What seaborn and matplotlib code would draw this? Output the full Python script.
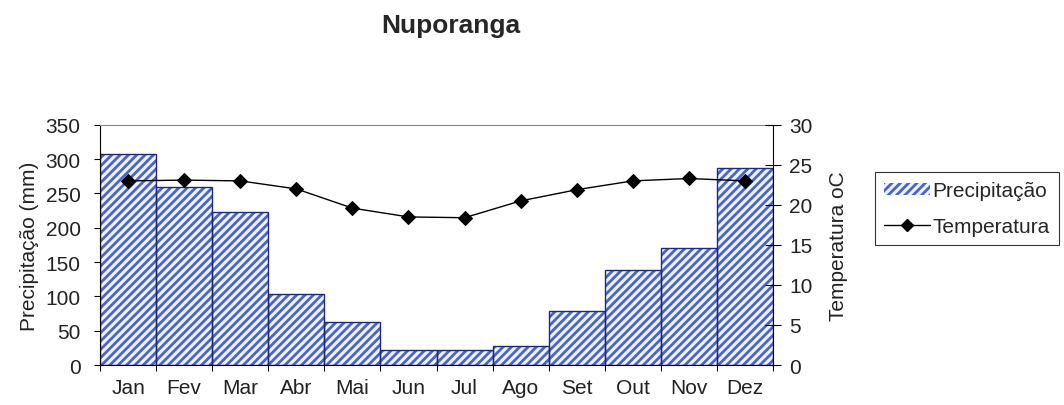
import numpy as np
import pandas as pd
import seaborn as sns
import matplotlib.pyplot as plt
from matplotlib.lines import Line2D
from matplotlib.patches import Patch, Rectangle

# --- dados ---
meses = ['Jan', 'Fev', 'Mar', 'Abr', 'Mai', 'Jun', 'Jul', 'Ago', 'Set', 'Out', 'Nov', 'Dez']
precipitacao = [307, 260, 223, 104, 63, 22, 22, 28, 79, 139, 170, 287]
temperatura = [23.0, 23.1, 23.0, 22.0, 19.6, 18.5, 18.4, 20.5, 21.9, 23.0, 23.3, 23.0]

df = pd.DataFrame({'Mes': meses, 'Precipitacao': precipitacao, 'Temperatura': temperatura})

FACE = '#eef3ff'
HATCH = '#4a64c8'
BORDA = '#1c2a78'
FS = 15

sns.set_style('white')
plt.rcParams['font.family'] = ['Liberation Sans', 'DejaVu Sans']
plt.rcParams['hatch.linewidth'] = 2.0

fig = plt.figure(figsize=(10.64, 4.06), dpi=100)
ax = fig.add_axes([0.094, 0.0985, 0.6325, 0.5915])

# barras de precipitação (hachura azul, contorno escuro por cima)
sns.barplot(data=df, x='Mes', y='Precipitacao', ax=ax, width=1.0,
            color=FACE, saturation=1, edgecolor=HATCH, linewidth=0)
for p in list(ax.patches):
    p.set_hatch('////')
    p.set_facecolor(FACE)
    p.set_linewidth(0)
    ax.add_patch(Rectangle(p.get_xy(), p.get_width(), p.get_height(), fill=False,
                           edgecolor=BORDA, linewidth=1.0, zorder=p.get_zorder() + 0.1))

ax.set_xlim(-0.5, 11.5)
ax.set_ylim(0, 350)
ax.set_yticks(np.arange(0, 351, 50))
ax.set_ylabel('Precipitação (mm)', fontsize=FS, color='#222222', labelpad=5)
ax.set_xlabel('')

# marcas entre as categorias, rótulos no centro
ax.set_xticks(np.arange(-0.5, 12, 1))
ax.set_xticklabels([])
ax.set_xticks(np.arange(12), minor=True)
ax.set_xticklabels(meses, minor=True, fontsize=FS, color='#222222')
ax.tick_params(axis='x', which='major', direction='inout', length=8, color='black', bottom=True)
ax.tick_params(axis='x', which='minor', length=0, pad=9)
ax.tick_params(axis='y', direction='out', length=4, color='black', left=True, pad=10,
               labelsize=FS, labelcolor='#222222')

for s in ['left', 'bottom']:
    ax.spines[s].set_color('black')
ax.spines['top'].set_color('#888888')
ax.spines['right'].set_visible(False)

# temperatura no eixo secundário
ax2 = ax.twinx()
sns.lineplot(x=np.arange(12), y=temperatura, ax=ax2, color='black', linewidth=1.0,
             marker='D', markersize=7.5, markeredgecolor='black', markerfacecolor='black')
ax2.set_ylim(0, 30)
ax2.set_yticks(np.arange(0, 31, 5))
ax2.set_ylabel('Temperatura oC', fontsize=FS, color='#222222', labelpad=12)
ax2.tick_params(axis='y', direction='inout', length=11, color='black', right=True, pad=6,
                labelsize=FS, labelcolor='#222222')
ax2.spines['right'].set_visible(True)
ax2.spines['right'].set_color('black')
ax2.spines['top'].set_visible(False)
ax2.spines['left'].set_visible(False)
ax2.spines['bottom'].set_visible(False)

fig.text(0.424, 1 - 33 / 406, 'Nuporanga', ha='center', va='baseline',
         fontsize=19, fontweight='bold')

handles = [Patch(facecolor=FACE, edgecolor=HATCH, hatch='////', linewidth=0),
           Line2D([0], [0], color='black', marker='D', markersize=6.5, linewidth=1.0)]
leg = fig.legend(handles, ['Precipitação', 'Temperatura'], loc='upper left',
                 bbox_to_anchor=(875 / 1064, 1 - 173 / 406), frameon=True, fancybox=False,
                 fontsize=FS, handlelength=2.2, handleheight=0.5, handletextpad=0.1,
                 borderpad=0.45, labelspacing=0.78, borderaxespad=0)
leg.get_frame().set_edgecolor('black')
leg.get_frame().set_linewidth(0.8)

plt.savefig('out.png', dpi=100)
plt.close()
